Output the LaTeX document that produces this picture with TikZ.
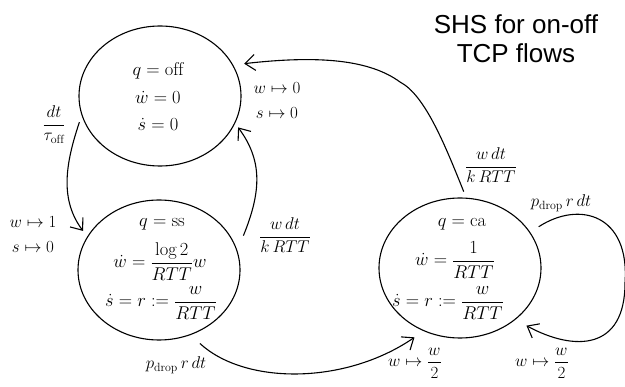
\RequirePackage{fix-cm}
\documentclass[tikz,border=0pt]{standalone}
\usepackage{amsmath}
\usepackage{fontspec}
\newfontfamily\titlefont{Liberation Sans}
\usetikzlibrary{arrows.meta,shapes.geometric}
% one line of a state's text: x shift, raise of its baseline, math content
\newcommand\stl[3]{\makebox[0pt]{\hspace*{#1}\raisebox{#2}[0pt][0pt]{$#3$}}}
\begin{document}
\begin{tikzpicture}[x=1pt,y=-1pt,
  state/.style={ellipse, draw, line width=1.1pt, minimum width=162pt, minimum height=140pt, inner sep=0pt, font=\fontsize{18.5}{22}\selectfont},
  lbl/.style={inner sep=0pt, font=\fontsize{17}{25}\selectfont},
  conn/.style={line width=1.1pt, -{Straight Barb[length=10pt,width=16pt]}},
  ttl/.style={inner sep=0pt, align=center, font=\titlefont\fontsize{26}{29}\selectfont}
]
\useasboundingbox (0,0) rectangle (625,387);

\node[state] (off) at (160,96) {\stl{-4pt}{20pt}{q=\mathrm{off}}\stl{-4pt}{-8pt}{\dot w=0}\stl{-4pt}{-35pt}{\dot s=0}};
\node[state] (ss) at (159,270) {\stl{6pt}{43pt}{q=\mathrm{ss}}\stl{2pt}{2.4pt}{\dot w=\dfrac{\log 2}{RTT}w}\stl{4pt}{-36.6pt}{\dot s=r:=\dfrac{w}{RTT}}};
\node[state] (ca) at (460,268) {\stl{4pt}{41pt}{q=\mathrm{ca}}\stl{-10pt}{2.4pt}{\dot w=\dfrac{1}{RTT}}\stl{-24pt}{-38.6pt}{\dot s=r:=\dfrac{w}{RTT}}};

\node[lbl, anchor=base] (l1) at (54,129.25) {$\dfrac{dt}{\tau_{\mathrm{off}}}$};
\node[lbl, align=center] (l2) at (33,235) {$w\mapsto 1$\\$s\mapsto 0$};
\node[lbl, align=center] (l3) at (277,101) {$w\mapsto 0$\\$s\mapsto 0$};
\node[lbl, anchor=base] (l4) at (285,241.25) {$\dfrac{w\,dt}{k\,RTT}$};
\node[lbl, anchor=base] (l5) at (491,171.25) {$\dfrac{w\,dt}{k\,RTT}$};
\node[lbl, anchor=base] (l6) at (176,369) {$p_{\mathrm{drop}}\,r\,dt$};
\node[lbl, anchor=base] (l7) at (415,367) {$w\mapsto\dfrac{w}{2}$};
\node[lbl, anchor=base] (l8) at (542,367) {$w\mapsto\dfrac{w}{2}$};
\node[lbl, anchor=base] (l9) at (561,207) {$p_{\mathrm{drop}}\,r\,dt$};

\node[ttl] (title) at (516,38.5) {SHS for on-off\\TCP flows};

\draw[conn, shorten <=7pt, shorten >=7pt] (off.194.6) .. controls (65,165) and (60,200) .. (ss.155.8);
\draw[conn, shorten <=16pt, shorten >=5pt] (ss.14.3) .. controls (262,190) and (262,160) .. (off.340.3);
\draw[conn, shorten <=6.5pt, shorten >=11pt] (ca.85.7) .. controls (445,145) and (425,95) .. (400,82) .. controls (370,60) and (320,55) .. (off.23.8);
\draw[conn, shorten <=12.5pt, shorten >=11pt] (ss.296.3) .. controls (245,385) and (345,385) .. (ca.240.2);
\draw[conn, shorten <=10pt, shorten >=12.5pt] (ca.27) .. controls (580,200) and (630,215) .. (625,283) .. controls (625,350) and (575,352) .. (ca.317.7);
\end{tikzpicture}
\end{document}
